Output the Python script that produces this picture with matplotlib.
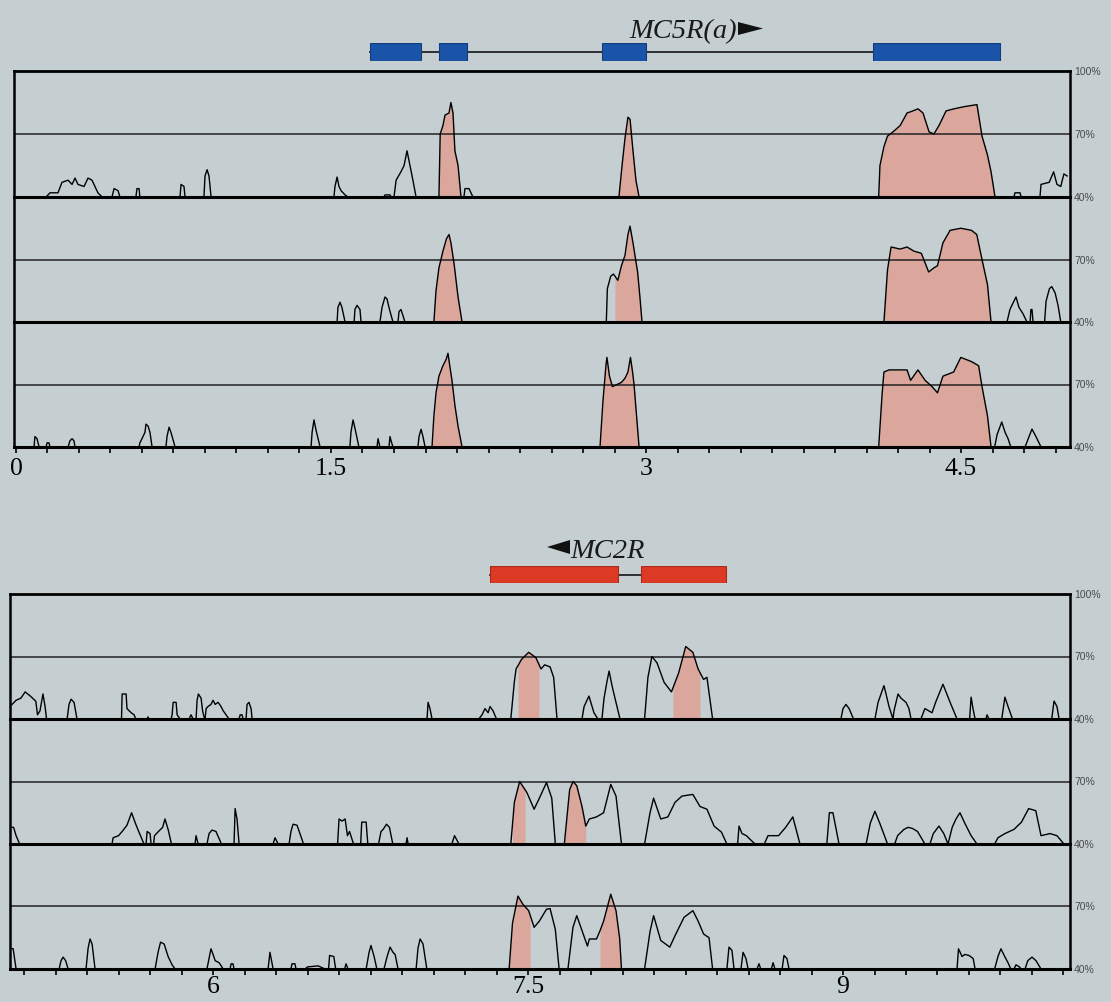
import numpy as np
import matplotlib
matplotlib.use("Agg")
import matplotlib.pyplot as plt
from matplotlib.patches import Rectangle, Polygon

# ---------------- data (x in kb, y in % identity) ----------------
TOP1_X = [0.143, 0.162, 0.2, 0.219, 0.248, 0.267, 0.281, 0.295, 0.324, 0.343, 0.362, 0.39, 0.41,
          0.457, 0.467, 0.486, 0.495, 0.571, 0.576, 0.586, 0.59, 0.781, 0.786, 0.8, 0.805,
          0.895, 0.9, 0.91, 0.919, 0.929,
          1.514, 1.519, 1.529, 1.538, 1.548, 1.567, 1.581,
          1.752, 1.757, 1.781, 1.786,
          1.8, 1.81, 1.833, 1.848, 1.862, 1.876, 1.89, 1.905,
          2.014, 2.02, 2.033, 2.043, 2.062, 2.071, 2.081, 2.09, 2.105, 2.119,
          2.133, 2.138, 2.157, 2.176,
          2.871, 2.886, 2.9, 2.914, 2.924, 2.938, 2.952, 2.967,
          4.108, 4.114, 4.133, 4.15, 4.176, 4.21, 4.243, 4.271, 4.295, 4.319, 4.348, 4.371,
          4.395, 4.429, 4.467, 4.514, 4.576, 4.6, 4.626, 4.643, 4.662,
          4.752, 4.757, 4.781, 4.786,
          4.876, 4.881, 4.92, 4.941, 4.957, 4.975, 4.99, 5.005]
TOP1_Y = [40, 42, 42, 47, 48, 46, 49, 46, 45, 49, 48, 42, 40,
          40, 44, 43, 40, 40, 44, 44, 40, 40, 46, 45, 40,
          40, 50, 53, 50, 40,
          40, 45, 49.5, 45, 43, 41, 40,
          40, 41, 41, 40,
          40, 48, 52, 55, 62, 55, 48, 40,
          40, 70, 74, 79, 80, 85, 80, 62, 55, 40,
          40, 44, 44, 40,
          40, 55, 68, 78, 77, 62, 48, 40,
          40, 55, 64, 69, 71, 74, 80, 81, 82, 80, 71, 70,
          74, 81, 82, 83, 84, 69, 60, 52, 40,
          40, 42, 42, 40,
          40, 46, 47, 52, 46, 45, 51, 50]
TOP1_FILL = [(2.014, 2.119), (2.871, 2.967), (4.108, 4.662)]

TOP2_X = [1.529, 1.533, 1.543, 1.552, 1.567,
          1.61, 1.614, 1.624, 1.638, 1.643,
          1.733, 1.743, 1.757, 1.767, 1.776, 1.795,
          1.819, 1.824, 1.833, 1.843, 1.852,
          1.99, 2.0, 2.014, 2.033, 2.05, 2.062, 2.071, 2.086, 2.105, 2.124,
          2.811, 2.816, 2.832, 2.845, 2.866, 2.883, 2.9, 2.914, 2.924, 2.938, 2.96, 2.971, 2.981,
          4.133, 4.15, 4.167, 4.21, 4.243, 4.276, 4.311, 4.346, 4.371, 4.388, 4.414, 4.448,
          4.499, 4.55, 4.575, 4.6, 4.626, 4.643,
          4.719, 4.733, 4.752, 4.762, 4.776, 4.795, 4.814,
          4.829, 4.833, 4.838, 4.843,
          4.898, 4.905, 4.921, 4.932, 4.948, 4.962, 4.975]
TOP2_Y = [40, 47, 49.5, 47, 40,
          40, 46, 48, 46, 40,
          40, 47, 52, 51, 47, 40,
          40, 45, 46, 43, 40,
          40, 55, 66, 74, 80, 82, 78, 68, 52, 40,
          40, 56, 62, 63, 60, 67, 72, 82, 86, 78, 64, 52, 40,
          40, 65, 76, 75, 76, 74, 73, 64, 66, 67, 78, 84,
          85, 84, 82, 70, 58, 40,
          40, 46, 50, 52, 47, 44, 40,
          40, 46, 46, 40,
          40, 50, 56, 57, 54, 48, 40]
TOP2_FILL = [(1.99, 2.124), (2.852, 2.976), (4.133, 4.643)]

TOP3_X = [0.086, 0.09, 0.1, 0.11,
          0.143, 0.148, 0.157, 0.162,
          0.248, 0.257, 0.267, 0.276, 0.281,
          0.586, 0.59, 0.6, 0.614, 0.619, 0.629, 0.638, 0.648,
          0.714, 0.719, 0.729, 0.738, 0.752, 0.757,
          1.405, 1.41, 1.419, 1.429, 1.448,
          1.59, 1.595, 1.605, 1.614, 1.633,
          1.719, 1.724, 1.733,
          1.776, 1.781, 1.786, 1.795,
          1.914, 1.919, 1.929, 1.938, 1.948,
          1.981, 1.99, 2.0, 2.014, 2.033, 2.048, 2.057, 2.067, 2.076, 2.09, 2.105, 2.124,
          2.781, 2.795, 2.81, 2.814, 2.826, 2.84, 2.862, 2.883, 2.9, 2.914, 2.926, 2.936, 2.943,
          2.955, 2.967,
          4.108, 4.124, 4.133, 4.157, 4.243, 4.26, 4.295, 4.329, 4.362, 4.388, 4.414, 4.465,
          4.499, 4.55, 4.584, 4.6, 4.626, 4.643,
          4.66, 4.672, 4.694, 4.71, 4.724, 4.737,
          4.805, 4.824, 4.838, 4.857, 4.881]
TOP3_Y = [40, 45, 44, 40,
          40, 42, 42, 40,
          40, 43, 44, 43, 40,
          40, 42, 44, 47, 51, 50, 47, 40,
          40, 45, 49.5, 47, 42, 40,
          40, 47, 53, 48, 40,
          40, 47, 53, 49, 40,
          40, 44, 40,
          40, 45, 43, 40,
          40, 45, 48.5, 45, 40,
          40, 55, 66, 74, 79, 82, 85, 78, 72, 60, 50, 40,
          40, 62, 80, 83, 74, 69, 70, 71, 73, 76, 83, 76, 70,
          55, 40,
          40, 65, 76, 77, 77, 72, 77, 72, 69, 66, 74, 76,
          83, 81, 79, 69, 55, 40,
          40, 46, 52, 47, 44, 40,
          40, 45, 48.6, 45, 40]
TOP3_FILL = [(1.981, 2.124), (2.781, 2.967), (4.108, 4.643)]

BOT1_X = [5.033, 5.062, 5.085, 5.105, 5.13, 5.156, 5.164, 5.176, 5.19, 5.2, 5.207,
          5.305, 5.314, 5.324, 5.338, 5.352,
          5.564, 5.567, 5.586, 5.59, 5.61, 5.624, 5.632,
          5.686, 5.69, 5.695,
          5.8, 5.805, 5.81, 5.824, 5.829, 5.843,
          5.886, 5.895, 5.905,
          5.919, 5.924, 5.93, 5.943, 5.95, 5.957,
          5.962, 5.967, 5.976, 5.99, 6.0, 6.01, 6.024, 6.038, 6.048, 6.062, 6.076,
          6.124, 6.129, 6.138, 6.143,
          6.157, 6.162, 6.171, 6.181, 6.186,
          7.019, 7.024, 7.033, 7.043,
          7.265, 7.281, 7.295, 7.31, 7.319, 7.333, 7.35,
          7.418, 7.435, 7.443, 7.469, 7.503, 7.537, 7.562, 7.579, 7.605, 7.622, 7.638,
          7.757, 7.767, 7.79, 7.805, 7.814, 7.833,
          7.852, 7.862, 7.876, 7.886, 7.9, 7.914, 7.938,
          8.055, 8.071, 8.09, 8.114, 8.148, 8.183, 8.217, 8.251, 8.285, 8.31, 8.336, 8.352, 8.379,
          8.99, 9.0, 9.014, 9.029, 9.05,
          9.152, 9.167, 9.181, 9.195, 9.205, 9.219, 9.238,
          9.243, 9.262, 9.276, 9.3, 9.314, 9.324,
          9.371, 9.39, 9.424, 9.441, 9.476, 9.51, 9.543,
          9.603, 9.61, 9.619, 9.629,
          9.68, 9.686, 9.695,
          9.756, 9.771, 9.786, 9.807,
          9.994, 10.005, 10.019, 10.029]
BOT1_Y = [46, 49, 50, 53, 51, 48.5, 42, 44, 52, 46, 40,
          40, 47, 49.5, 48, 40,
          40, 52, 52, 45, 43, 42, 40,
          40, 41, 40,
          40, 42, 48, 48, 42, 40,
          40, 42, 40,
          40, 49, 52, 50, 44, 41,
          40, 45, 46, 47, 49, 47, 48, 46, 44, 42, 40,
          40, 42, 42, 40,
          40, 47, 48, 45, 40,
          40, 48, 45, 40,
          40, 42, 45, 43, 46, 44, 40,
          40, 58, 64, 68.6, 72, 69.5, 64, 66, 65, 60, 40,
          40, 46, 51, 46, 43, 40,
          40, 50, 58, 63, 56, 50, 40,
          40, 60, 70, 67, 57.6, 53, 62, 74.8, 72, 64, 59, 60, 40,
          40, 45, 47, 45, 40,
          40, 48, 52, 56, 52, 46, 40,
          44, 52, 50, 48, 45, 40,
          40, 45, 43, 48, 56.7, 48, 40,
          40, 50.5, 45, 40,
          40, 42, 40,
          40, 50.5, 46, 40,
          40, 48.6, 46, 40]
BOT1_FILL = [(7.452, 7.552), (8.19, 8.319)]

BOT2_X = [5.033, 5.05, 5.062, 5.079,
          5.519, 5.524, 5.55, 5.567, 5.59, 5.612, 5.63, 5.646, 5.671,
          5.681, 5.686, 5.7, 5.705,
          5.717, 5.721, 5.74, 5.76, 5.771, 5.786, 5.802,
          5.914, 5.919, 5.929,
          5.971, 5.981, 5.995, 6.014, 6.04,
          6.1, 6.105, 6.114, 6.124,
          6.286, 6.295, 6.31,
          6.362, 6.371, 6.381, 6.4, 6.414, 6.431,
          6.593, 6.6, 6.614, 6.629, 6.64, 6.65, 6.669,
          6.703, 6.708, 6.729, 6.737,
          6.788, 6.8, 6.81, 6.826, 6.84, 6.856,
          6.919, 6.924, 6.929,
          7.137, 7.15, 7.171,
          7.418, 7.435, 7.46, 7.494, 7.529, 7.554, 7.588, 7.613, 7.63,
          7.673, 7.698, 7.714, 7.732, 7.757, 7.775, 7.792, 7.826, 7.86, 7.894, 7.919, 7.945,
          8.055, 8.081, 8.098, 8.132, 8.166, 8.2, 8.233, 8.285, 8.319, 8.352, 8.386, 8.421, 8.447,
          8.498, 8.505, 8.519, 8.54, 8.56, 8.581,
          8.625, 8.643, 8.693, 8.727, 8.761, 8.795,
          8.923, 8.935, 8.952, 8.981,
          9.11, 9.13, 9.152, 9.175, 9.212,
          9.246, 9.26, 9.29, 9.31, 9.33, 9.355, 9.39,
          9.414, 9.43, 9.457, 9.48, 9.5,
          9.52, 9.538, 9.557, 9.58, 9.61, 9.638,
          9.722, 9.738, 9.771, 9.814, 9.85, 9.884, 9.918, 9.943, 9.986, 10.019, 10.052]
BOT2_Y = [48, 48, 44, 40,
          40, 43, 44, 46, 49, 55, 50, 46, 40,
          40, 46, 45, 40,
          40, 44, 46, 48, 52, 47, 40,
          40, 44, 40,
          40, 45, 46.7, 46, 40,
          40, 57, 52, 40,
          40, 43, 40,
          40, 46, 49.5, 49, 45, 40,
          40, 52, 51, 52, 44, 46, 40,
          40, 50.5, 50.5, 40,
          40, 46, 47, 49.5, 48, 40,
          40, 43, 40,
          40, 44, 40,
          40, 60, 70, 64.8, 56.7, 62, 69.5, 62, 40,
          40, 66, 70, 68, 58, 48.6, 52, 53, 55, 68.6, 63, 40,
          40, 55, 62, 52, 53, 60, 63, 63.8, 58, 56.7, 48.6, 45.7, 40,
          40, 48.6, 45, 44, 42, 40,
          40, 44, 44, 48, 53, 40,
          40, 55, 55, 40,
          40, 50, 55.7, 50, 40,
          40, 44, 47, 48, 47.5, 46, 40,
          40, 45, 48.6, 45, 40,
          48, 52, 55, 50, 44, 40,
          40, 43, 45, 47, 50.5, 57, 56, 44, 45, 44, 40]
BOT2_FILL = [(7.426, 7.486), (7.673, 7.775)]

BOT3_X = [5.033, 5.048, 5.062,
          5.267, 5.276, 5.286, 5.298, 5.31,
          5.395, 5.405, 5.414, 5.424, 5.438,
          5.724, 5.738, 5.75, 5.767, 5.786, 5.805, 5.819,
          5.971, 5.99, 6.0, 6.01, 6.029, 6.048,
          6.081, 6.086, 6.095, 6.1,
          6.262, 6.271, 6.286,
          6.371, 6.376, 6.39, 6.395,
          6.438, 6.45, 6.5, 6.533,
          6.55, 6.555, 6.575, 6.584,
          6.627, 6.633, 6.643,
          6.729, 6.743, 6.752, 6.767, 6.78,
          6.814, 6.829, 6.843, 6.857, 6.867, 6.881,
          6.967, 6.976, 6.986, 7.0, 7.018,
          7.41, 7.426, 7.452, 7.476, 7.503, 7.529, 7.554, 7.588, 7.605, 7.63, 7.648,
          7.69, 7.714, 7.732, 7.757, 7.783, 7.792, 7.826, 7.843, 7.86, 7.894, 7.919, 7.936, 7.945,
          8.055, 8.081, 8.098, 8.132, 8.175, 8.2, 8.243, 8.285, 8.31, 8.336, 8.362, 8.379,
          8.447, 8.457, 8.471, 8.481,
          8.514, 8.524, 8.538, 8.548,
          8.59, 8.6, 8.608,
          8.659, 8.667, 8.676,
          8.71, 8.719, 8.733, 8.743,
          9.543, 9.55, 9.567, 9.58, 9.6, 9.62, 9.629,
          9.722, 9.738, 9.752, 9.77, 9.786, 9.799,
          9.814, 9.824, 9.84, 9.848,
          9.867, 9.88, 9.9, 9.919, 9.943]
BOT3_Y = [50, 49.7, 40,
          40, 44, 45.7, 44, 40,
          40, 50, 54.4, 52, 40,
          40, 48, 52.9, 52, 46, 42, 40,
          40, 49.7, 47, 44, 43, 40,
          40, 42.5, 42.5, 40,
          40, 48, 40,
          40, 42.5, 42.5, 40,
          40, 41, 41.5, 40,
          40, 46.5, 46, 40,
          40, 42.5, 40,
          40, 48, 51.3, 46, 40,
          40, 46, 50.5, 48, 47, 40,
          40, 50, 54.4, 52, 40,
          40, 62, 75, 71, 68, 60, 63, 68.7, 69, 59, 40,
          40, 60, 65.6, 58.4, 51, 54.4, 54.4, 58.4, 63, 75.9, 68, 55, 40,
          40, 58, 65.6, 53.7, 50.5, 56, 64.8, 68, 63, 56.8, 55, 40,
          40, 50.5, 49, 40,
          40, 48, 45, 40,
          40, 42.5, 40,
          40, 43, 40,
          40, 46.5, 45, 40,
          40, 49.7, 46, 47, 46.5, 45, 40,
          40, 46, 49.7, 46, 43, 40,
          40, 42, 41, 40,
          40, 44, 45.7, 44, 40]
BOT3_FILL = [(7.41, 7.51), (7.843, 7.945)]

MC5R_EXONS = [(1.686, 1.929), (2.014, 2.148), (2.79, 3.0), (4.08, 4.686)]
MC2R_EXONS = [(7.319, 7.929), (8.038, 8.443)]

TOP_TICK_LABELS = ["0", "1.5", "3", "4.5"]
BOT_TICK_LABELS = ["6", "7.5", "9"]
RIGHT_LABELS = ["100%", "70%", "40%"]

# ---------------- style ----------------
W, H = 1111, 1003
BG = "#c5cfd2"
PINK = "#dba69c"
BLUE = "#1a54a8"
RED = "#dc3a24"

fig = plt.figure(figsize=(W / 100, H / 100), dpi=100)
fig.patch.set_facecolor(BG)


def px_axes(l, r, t, b):
    return fig.add_axes([l / W, 1 - b / H, (r - l) / W, (b - t) / H])


def fill_range(ax, xs, ys, a, b):
    xs = np.asarray(xs, float)
    ys = np.asarray(ys, float)
    m = (xs > a) & (xs < b)
    px = np.concatenate([[a], xs[m], [b]])
    py = np.concatenate([[np.interp(a, xs, ys)], ys[m], [np.interp(b, xs, ys)]])
    ax.fill_between(px, 40, py, color=PINK, lw=0, zorder=1)


def draw_panel(left, right, tops, xlim, tracks, tick_pos, tick_labels, label_pad):
    axes = []
    for i, ((t, b), (xs, ys, fills)) in enumerate(zip(tops, tracks)):
        ax = px_axes(left, right, t, b)
        ax.set_facecolor("none")
        ax.set_xlim(*xlim)
        ax.set_ylim(40, 100)
        for a, bb in fills:
            fill_range(ax, xs, ys, a, bb)
        ax.plot(xs, ys, color="black", lw=1.0, zorder=3)
        ax.axhline(70, color="#222222", lw=1.1, zorder=2)
        for s in ["left", "right"]:
            ax.spines[s].set_linewidth(1.8)
        ax.spines["bottom"].set_linewidth(2.2)
        ax.spines["top"].set_visible(i == 0)
        ax.spines["top"].set_linewidth(2.0)
        ax.set_yticks([])
        for s in ax.spines.values():
            s.set_zorder(4)
        lab_levels = [(100, RIGHT_LABELS[0])] if i == 0 else []
        lab_levels += [(70, RIGHT_LABELS[1]), (40, RIGHT_LABELS[2])]
        for yv, txt in lab_levels:
            ax.text(1.004, (yv - 40) / 60, txt, transform=ax.transAxes,
                    fontsize=7.5, color="#4a4a4a", va="center", ha="left",
                    family="Liberation Sans")
        if i < 2:
            ax.set_xticks([])
        else:
            labs = []
            for tp in tick_pos:
                lab = ""
                for tl in tick_labels:
                    if abs(float(tl) - tp) < 1e-6:
                        lab = tl
                labs.append(lab)
            ax.set_xticks(tick_pos)
            ax.set_xticklabels(labs, family="Liberation Serif", fontsize=18.5)
            ax.tick_params(axis="x", direction="out", length=4, width=1.2,
                           pad=label_pad)
        axes.append(ax)
    return axes


top_ticks = [round(0.15 * k, 2) for k in range(0, 34)]
bot_ticks = [round(0.15 * k, 2) for k in range(34, 68)]

draw_panel(14, 1070, [(72, 198), (198, 323), (323, 448)], (-0.0095, 5.019),
           [(TOP1_X, TOP1_Y, TOP1_FILL), (TOP2_X, TOP2_Y, TOP2_FILL),
            (TOP3_X, TOP3_Y, TOP3_FILL)], top_ticks, TOP_TICK_LABELS, 3)

draw_panel(10, 1070, [(595, 720), (720, 845), (845, 970)], (5.033, 10.081),
           [(BOT1_X, BOT1_Y, BOT1_FILL), (BOT2_X, BOT2_Y, BOT2_FILL),
            (BOT3_X, BOT3_Y, BOT3_FILL)], bot_ticks, BOT_TICK_LABELS, 0)


# ---------------- gene models ----------------
def gene_axes(l, r, t, b, xlim, exons, color, edge):
    ax = px_axes(l, r, t, b)
    ax.set_xlim(*xlim)
    ax.set_ylim(0, 1)
    ax.axis("off")
    ax.plot([exons[0][0], exons[-1][1]], [0.5, 0.5], color="#222222", lw=1.3, zorder=1)
    for a, bb in exons:
        ax.add_patch(Rectangle((a, 0), bb - a, 1, facecolor=color, edgecolor=edge,
                               lw=0.8, zorder=2))
    return ax


gene_axes(14, 1070, 44, 62, (-0.0095, 5.019), MC5R_EXONS, BLUE, "#123c7a")
gene_axes(10, 1070, 567, 584, (5.033, 10.081), MC2R_EXONS, RED, "#a82a18")

fig.text(629 / W, 1 - 38 / H, "MC5R(a)", family="Liberation Serif", style="italic",
         fontsize=20.5, ha="left", va="baseline", color="#1a1a1a")
fig.text(570 / W, 1 - 558 / H, "MC2R", family="Liberation Serif", style="italic",
         fontsize=20.5, ha="left", va="baseline", color="#1a1a1a")

# direction arrows
fig.patches.append(Polygon([[738 / W, 1 - 23 / H], [738 / W, 1 - 36 / H], [763 / W, 1 - 29.5 / H]],
                           closed=True, transform=fig.transFigure, facecolor="#111111",
                           edgecolor="none"))
fig.patches.append(Polygon([[570 / W, 1 - 541 / H], [570 / W, 1 - 555 / H], [547 / W, 1 - 548 / H]],
                           closed=True, transform=fig.transFigure, facecolor="#111111",
                           edgecolor="none"))

fig.savefig("out.png", dpi=100, facecolor=BG)
